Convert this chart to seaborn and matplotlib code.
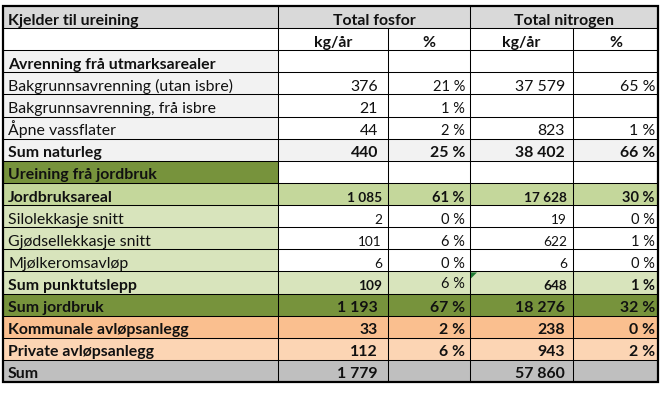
import matplotlib
matplotlib.use("Agg")
import matplotlib.pyplot as plt
from matplotlib.patches import Rectangle, Polygon
import seaborn as sns

sns.set_theme(style="white")
plt.rcParams['font.family'] = ['Lato', 'DejaVu Sans']

# ---------------- data ----------------
title_header = "Kjelder til ureining"
group_headers = ["Total fosfor", "Total nitrogen"]
unit_headers = ["kg/år", "%", "kg/år", "%"]

labels = ["Avrenning frå utmarksarealer", "Bakgrunnsavrenning (utan isbre)",
          "Bakgrunnsavrenning, frå isbre", "Åpne vassflater", "Sum naturleg",
          "Ureining frå jordbruk", "Jordbruksareal", "Silolekkasje snitt",
          "Gjødsellekkasje snitt", "Mjølkeromsavløp", "Sum punktutslepp",
          "Sum jordbruk", "Kommunale avløpsanlegg", "Private avløpsanlegg", "Sum"]
fosfor_kg = ["", "376", "21", "44", "440", "", "1 085", "2", "101", "6", "109",
             "1 193", "33", "112", "1 779"]
fosfor_pct = ["", "21 %", "1 %", "2 %", "25 %", "", "61 %", "0 %", "6 %", "0 %",
              "6 %", "67 %", "2 %", "6 %", ""]
nitrogen_kg = ["", "37 579", "", "823", "38 402", "", "17 628", "19", "622", "6",
               "648", "18 276", "238", "943", "57 860"]
nitrogen_pct = ["", "65 %", "", "1 %", "66 %", "", "30 %", "0 %", "1 %", "0 %",
                "1 %", "32 %", "0 %", "2 %", ""]

# ---------------- styling ----------------
GREY_HDR = "#D9D9D9"
GREY_LT = "#F2F2F2"
GREEN_DK = "#77933C"
GREEN_MD = "#C4D79B"
GREEN_LT = "#D8E4BC"
ORANGE = "#FABF8F"
ORANGE_LT = "#FCD5B4"
GREY_SUM = "#BFBFBF"
WHITE = "#FFFFFF"

label_fill = [GREY_LT, GREY_LT, GREY_LT, GREY_LT, GREY_LT, GREEN_DK, GREEN_MD,
              GREEN_LT, GREEN_LT, GREEN_LT, GREEN_LT, GREEN_DK, ORANGE, ORANGE_LT, GREY_SUM]
data_fill = [WHITE, WHITE, WHITE, WHITE, GREY_LT, WHITE, GREEN_MD,
             WHITE, WHITE, WHITE, GREEN_LT, GREEN_DK, ORANGE, ORANGE_LT, GREY_SUM]
label_bold = [True, False, False, False, True, True, True, False, False, False,
              True, True, True, True, True]
# per-cell: (size code, bold) for the four data columns
cell_style = [
    [("n", 0), ("n", 0), ("n", 0), ("n", 0)],
    [("n", 0), ("m", 0), ("n", 0), ("n", 0)],
    [("n", 0), ("m", 0), ("n", 0), ("n", 0)],
    [("n", 0), ("m", 0), ("n", 0), ("n", 0)],
    [("n", 1), ("n", 1), ("n", 1), ("n", 1)],
    [("n", 0), ("n", 0), ("n", 0), ("n", 0)],
    [("s", 1), ("m", 1), ("s", 1), ("m", 1)],
    [("s", 0), ("m", 0), ("s", 0), ("m", 0)],
    [("s", 0), ("m", 0), ("s", 0), ("m", 0)],
    [("s", 0), ("m", 0), ("s", 0), ("m", 0)],
    [("s", 1), ("m", 0), ("s", 1), ("m", 1)],
    [("n", 1), ("n", 1), ("n", 1), ("n", 1)],
    [("n", 1), ("n", 1), ("n", 1), ("n", 1)],
    [("n", 1), ("n", 1), ("n", 1), ("n", 1)],
    [("n", 1), ("n", 1), ("n", 1), ("n", 1)],
]

W, H = 671, 402
fig = plt.figure(figsize=(W / 100, H / 100), dpi=100)
fig.patch.set_facecolor("white")
ax = fig.add_axes([0, 0, 1, 1])
ax.set_xlim(0, W)
ax.set_ylim(H, 0)
ax.axis("off")

col_x = [3, 278, 388, 470, 573, 658]
top, bottom = 7, 383
n_rows = 2 + len(labels)
rh = (bottom - top) / n_rows
row_y = [top + i * rh for i in range(n_rows + 1)]

# fit font size to the reference width of one label
fig.canvas.draw()
r = fig.canvas.get_renderer()
probe = ax.text(0, 0, "Bakgrunnsavrenning (utan isbre)", fontsize=10)
wpx = probe.get_window_extent(r).width
probe.remove()
FS = 10 * 224 / wpx
sizes = {"n": FS, "m": FS * 0.92, "s": FS * 0.86}
TXT = "#111111"

def fill(x0, x1, y0, y1, c):
    ax.add_patch(Rectangle((x0, y0), x1 - x0, y1 - y0, facecolor=c, edgecolor="none", zorder=1))

# header fills
fill(col_x[0], col_x[-1], row_y[0], row_y[1], GREY_HDR)
fill(col_x[0], col_x[-1], row_y[1], row_y[2], WHITE)

for i in range(len(labels)):
    y0, y1 = row_y[i + 2], row_y[i + 3]
    fill(col_x[0], col_x[1], y0, y1, label_fill[i])
    fill(col_x[1], col_x[-1], y0, y1, data_fill[i])

def base(i):
    return row_y[i + 1] - 4.5

# header text
ax.text(col_x[0] + 5, base(0), title_header, fontsize=FS, fontweight="bold",
        ha="left", va="baseline", color=TXT, zorder=3)
for g, s in enumerate(group_headers):
    xc = (col_x[1 + 2 * g] + col_x[3 + 2 * g]) / 2
    ax.text(xc, base(0), s, fontsize=FS, fontweight="bold", ha="center",
            va="baseline", color=TXT, zorder=3)
for j, s in enumerate(unit_headers):
    xc = (col_x[1 + j] + col_x[2 + j]) / 2
    ax.text(xc, base(1), s, fontsize=FS, fontweight="bold", ha="center",
            va="baseline", color=TXT, zorder=3)

right_n = [378, 465, 565, 655]
right_s = [382, 466, 567, 655]
columns = [fosfor_kg, fosfor_pct, nitrogen_kg, nitrogen_pct]
for i, lab in enumerate(labels):
    rr = i + 2
    ax.text(col_x[0] + 5, base(rr), lab, fontsize=FS,
            fontweight="bold" if label_bold[i] else "normal",
            ha="left", va="baseline", color=TXT, zorder=3)
    for j, col in enumerate(columns):
        s = col[i]
        if not s:
            continue
        code, b = cell_style[i][j]
        xr = right_s[j] if code == "s" else right_n[j]
        yb = base(rr)
        if i == 10 and j == 1:
            yb -= 2.5
        ax.text(xr, yb, s, fontsize=sizes[code], fontweight="bold" if b else "normal",
                ha="right", va="baseline", color=TXT, zorder=3)

# error-indicator triangle
xt, yt = col_x[3] + 1, row_y[12] + 1
ax.add_patch(Polygon([[xt, yt], [xt + 6, yt], [xt, yt + 6]], closed=True,
                     facecolor="#1E7B34", edgecolor="none", zorder=4))

# grid lines
LW = 0.75
for y in row_y[1:-1]:
    ax.plot([col_x[0], col_x[-1]], [y, y], color="black", lw=LW, zorder=5,
            solid_capstyle="butt")
for k, x in enumerate(col_x[1:-1], start=1):
    y_start = row_y[0] if k in (1, 3) else row_y[1]
    ax.plot([x, x], [y_start, row_y[-1]], color="black", lw=LW, zorder=5,
            solid_capstyle="butt")
ax.add_patch(Rectangle((col_x[0], row_y[0]), col_x[-1] - col_x[0], row_y[-1] - row_y[0],
                       facecolor="none", edgecolor="black", lw=1.6, zorder=6))

fig.savefig("out.png", dpi=100, facecolor="white")
